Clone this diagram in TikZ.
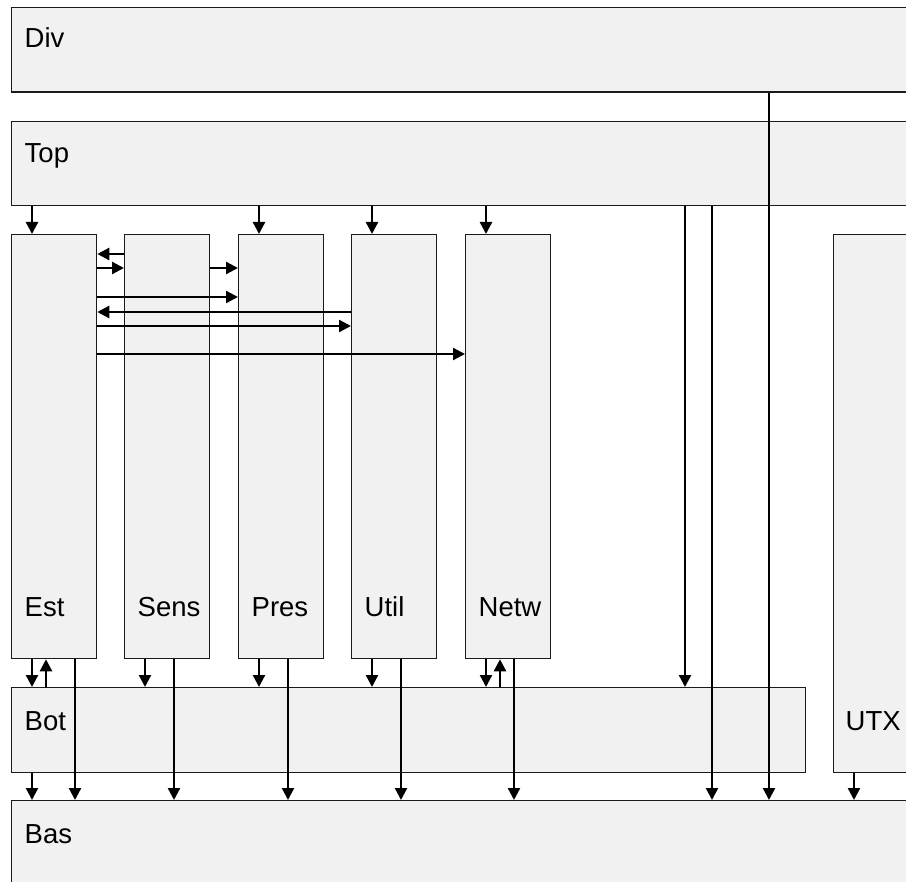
\documentclass[tikz,border=0pt]{standalone}
\usepackage{fontspec}
\setmainfont{Liberation Sans}
\usetikzlibrary{arrows.meta}
\definecolor{boxfill}{HTML}{F1F1F1}
\definecolor{boxline}{HTML}{1A1A1A}
\tikzset{
  box/.style={draw=boxline, fill=boxfill, line width=1.3pt, rectangle, inner sep=0pt, anchor=north west},
  lbl/.style={anchor=base west, inner sep=0pt, font=\fontsize{27.5}{30}\selectfont},
  arr/.style={line width=2.4pt, -{Triangle[length=12pt,width=12pt]}},
}
\begin{document}
\begin{tikzpicture}[x=1pt,y=-1pt]
\useasboundingbox (0,0) rectangle (906,882);
\clip (0,0) rectangle (906,882);
\fill[white] (0,0) rectangle (906,882);
% boxes
\node[box, minimum width=960pt, minimum height=84.5pt] (div) at (11,7) {};
\node[box, minimum width=960pt, minimum height=84pt] (top) at (11,121) {};
\node[box, minimum width=85pt, minimum height=424pt] (est) at (11,234) {};
\node[box, minimum width=85pt, minimum height=424pt] (sens) at (124,234) {};
\node[box, minimum width=85pt, minimum height=424pt] (pres) at (238,234) {};
\node[box, minimum width=85pt, minimum height=424pt] (util) at (351,234) {};
\node[box, minimum width=85pt, minimum height=424pt] (netw) at (465,234) {};
\node[box, minimum width=794pt, minimum height=84.5pt] (bot) at (11,687) {};
\node[box, minimum width=140pt, minimum height=537.5pt] (utx) at (833,234) {};
\node[box, minimum width=960pt, minimum height=150pt] (bas) at (11,800) {};
% labels
\node[lbl] (tdiv) at (24.5,48) {Div};
\node[lbl] (ttop) at (24.5,163) {Top};
\node[lbl] (test) at (24.5,616) {Est};
\node[lbl] (tsens) at (137.5,616) {Sens};
\node[lbl] (tpres) at (251.5,616) {Pres};
\node[lbl] (tutil) at (364.5,616) {Util};
\node[lbl] (tnetw) at (478.5,616) {Netw};
\node[lbl] (tbot) at (24.5,730) {Bot};
\node[lbl] (tutx) at (845.5,730) {UTX};
\node[lbl] (tbas) at (24.5,843) {Bas};
% from Top
\draw[arr] (top.south -| 32,0) -- (est.north -| 32,0);
\draw[arr] (top.south -| 259,0) -- (pres.north -| 259,0);
\draw[arr] (top.south -| 372,0) -- (util.north -| 372,0);
\draw[arr] (top.south -| 486,0) -- (netw.north -| 486,0);
\draw[arr] (top.south -| 685,0) -- (bot.north -| 685,0);
\draw[arr] (top.south -| 712,0) -- (bas.north -| 712,0);
\draw[arr] (div.south -| 769,0) -- (bas.north -| 769,0);
% horizontal
\draw[arr] (sens.west |- 0,254) -- (est.east |- 0,254);
\draw[arr] (est.east |- 0,268) -- (sens.west |- 0,268);
\draw[arr] (sens.east |- 0,268) -- (pres.west |- 0,268);
\draw[arr] (est.east |- 0,297) -- (pres.west |- 0,297);
\draw[arr] (util.west |- 0,312) -- (est.east |- 0,312);
\draw[arr] (est.east |- 0,326) -- (util.west |- 0,326);
\draw[arr] (est.east |- 0,354) -- (netw.west |- 0,354);
% bottom
\draw[arr] (est.south -| 32,0) -- (bot.north -| 32,0);
\draw[arr] (bot.north -| 46,0) -- (est.south -| 46,0);
\draw[arr] (est.south -| 75,0) -- (bas.north -| 75,0);
\draw[arr] (sens.south -| 145,0) -- (bot.north -| 145,0);
\draw[arr] (sens.south -| 174,0) -- (bas.north -| 174,0);
\draw[arr] (pres.south -| 259,0) -- (bot.north -| 259,0);
\draw[arr] (pres.south -| 288,0) -- (bas.north -| 288,0);
\draw[arr] (util.south -| 372,0) -- (bot.north -| 372,0);
\draw[arr] (util.south -| 401,0) -- (bas.north -| 401,0);
\draw[arr] (netw.south -| 486,0) -- (bot.north -| 486,0);
\draw[arr] (bot.north -| 500,0) -- (netw.south -| 500,0);
\draw[arr] (netw.south -| 514,0) -- (bas.north -| 514,0);
\draw[arr] (bot.south -| 32,0) -- (bas.north -| 32,0);
\draw[arr] (utx.south -| 854,0) -- (bas.north -| 854,0);
\end{tikzpicture}
\end{document}
